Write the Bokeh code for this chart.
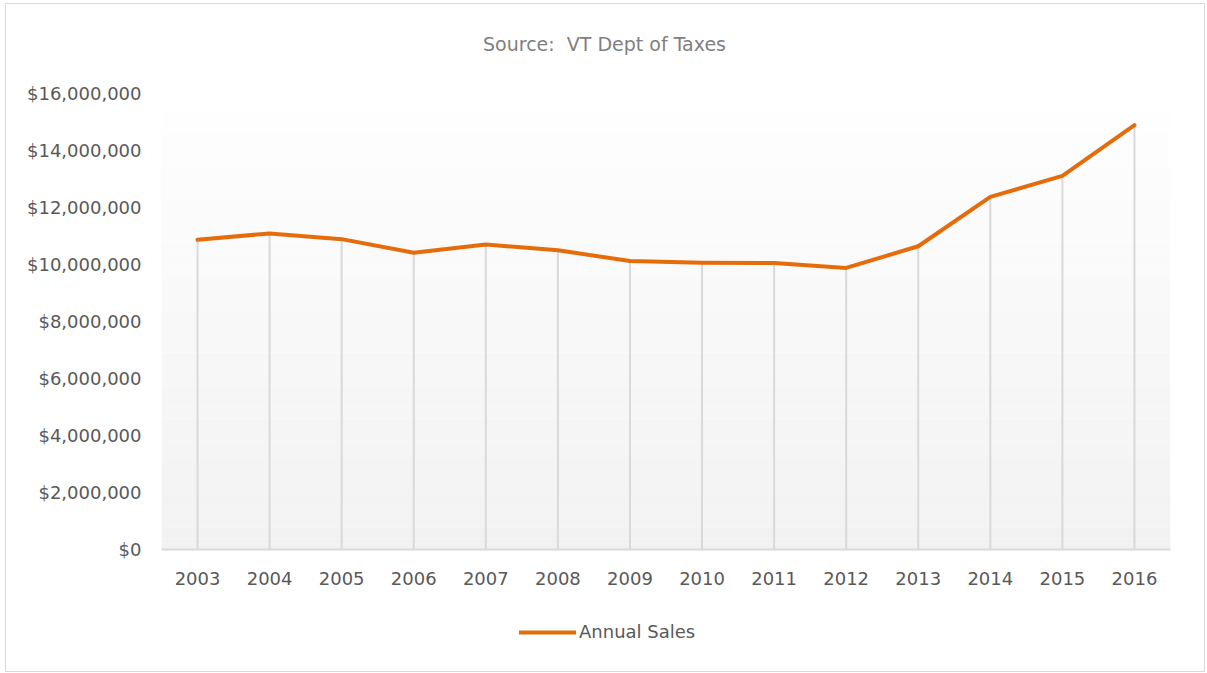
from bokeh.plotting import figure
from bokeh.layouts import column
from bokeh.models import (ColumnDataSource, Legend, LegendItem, NumeralTickFormatter,
                          BoxAnnotation, Label, FixedTicker, FactorRange, Range1d)
from bokeh.embed import file_html
from bokeh.resources import INLINE

# ---- data ----
years = ["2003", "2004", "2005", "2006", "2007", "2008", "2009",
         "2010", "2011", "2012", "2013", "2014", "2015", "2016"]
sales = [10870000, 11090000, 10890000, 10410000, 10700000, 10500000, 10120000,
         10060000, 10050000, 9880000, 10640000, 12370000, 13110000, 14890000]
y_ticks = [0, 2000000, 4000000, 6000000, 8000000, 10000000, 12000000, 14000000, 16000000]
title_text = "Source:\u00a0 VT Dept of Taxes"
series_name = "Annual Sales"

FONT = "DejaVu Sans"
LINE_COLOR = "#E46C0A"
TEXT_COLOR = "#595959"
W = 1198


def strip(h):
    f = figure(width=W, height=h, output_backend="svg", toolbar_location=None,
               x_range=FactorRange(*years, range_padding=0), y_range=Range1d(-2, -1),
               min_border_left=0, min_border_right=0, min_border_top=0, min_border_bottom=0)
    f.axis.visible = False
    f.grid.visible = False
    f.outline_line_color = None
    f.background_fill_color = "white"
    f.border_fill_color = "white"
    return f


src = ColumnDataSource(dict(year=years, sales=sales, base=[0] * len(years)))

# ---- title strip ----
top = strip(60)
top.add_layout(Label(x=443, y=21, x_units="screen", y_units="screen", text=title_text,
                     text_align="center", text_baseline="middle", text_font=FONT,
                     text_font_size="19px", text_color="#808080"))

# ---- main chart ----
p = figure(width=W, height=536, output_backend="svg", toolbar_location=None,
           x_range=FactorRange(*years, range_padding=0),
           y_range=Range1d(0, 16000000),
           min_border_left=155, min_border_right=34, min_border_top=29, min_border_bottom=51)
p.outline_line_color = None
p.background_fill_color = "white"
p.border_fill_color = "white"

# gradient plot-area fill (style only)
n = 40
top_frac = 437.0 / 456.0
for i in range(n):
    f0 = i / n
    f1 = (i + 1) / n
    c = int(round(242 + (254 - 242) * (f0 + 0.5 / n)))
    p.add_layout(BoxAnnotation(bottom=16000000 * top_frac * f0, top=16000000 * top_frac * f1,
                               fill_color=(c, c, c), fill_alpha=1.0, line_color=None,
                               level="underlay"))

p.xgrid.grid_line_color = None
p.ygrid.grid_line_color = None

# drop lines
p.segment(x0="year", y0="base", x1="year", y1="sales", source=src,
          line_color="#d9d9d9", line_width=2)
line = p.line(x="year", y="sales", source=src, line_color=LINE_COLOR, line_width=4,
              line_join="round", line_cap="round")

# axes
p.yaxis.ticker = FixedTicker(ticks=y_ticks)
p.yaxis.formatter = NumeralTickFormatter(format="$0,0")
p.yaxis.axis_line_color = None
p.yaxis.major_tick_line_color = None
p.yaxis.minor_tick_line_color = None
p.yaxis.major_label_standoff = 14
for ax in (p.xaxis[0], p.yaxis[0]):
    ax.major_label_text_font = FONT
    ax.major_label_text_font_size = "18px"
    ax.major_label_text_color = TEXT_COLOR
p.xaxis.axis_line_color = "#d9d9d9"
p.xaxis.axis_line_width = 2
p.xaxis.major_tick_line_color = None
p.xaxis.minor_tick_line_color = None
p.xaxis.major_label_standoff = 16

# ---- legend strip (series drawn out of view, only its legend entry shows) ----
lg = strip(71)
proxy = lg.line(x="year", y="sales", source=src, line_color=LINE_COLOR, line_width=4,
                line_cap="round")
legend = Legend(items=[LegendItem(label=series_name, renderers=[proxy])],
                orientation="horizontal", location=(358, 29),
                glyph_width=57, glyph_height=20, label_standoff=3,
                border_line_color=None, background_fill_alpha=0,
                label_text_font=FONT, label_text_font_size="18px",
                label_text_color=TEXT_COLOR, margin=0, padding=0)
lg.add_layout(legend)

layout = column(top, p, lg, spacing=0,
                styles={"border": "1px solid #d9d9d9", "margin-left": "5px", "margin-top": "3px"})
open("out.html", "w").write(file_html(layout, INLINE))
